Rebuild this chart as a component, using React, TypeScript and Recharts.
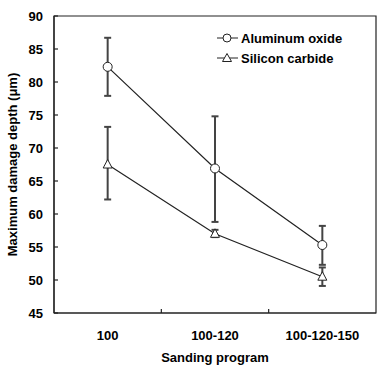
import React from 'react';
import {
  LineChart,
  Line,
  XAxis,
  YAxis,
  ErrorBar,
  Legend,
  ReferenceArea,
} from 'recharts';

// Sanding programs (grit sequences)
const categories = ['100', '100-120', '100-120-150'];

// Aluminum oxide: mean and error bar ends (µm)
const aluminumMean = [82.3, 66.9, 55.3];
const aluminumHigh = [86.7, 74.8, 58.2];
const aluminumLow = [77.9, 58.8, 52.3];

// Silicon carbide: mean and error bar ends (µm)
const siliconMean = [67.5, 57.0, 50.5];
const siliconHigh = [73.2, 57.6, 51.9];
const siliconLow = [62.2, 56.5, 49.1];

const yTicks = [45, 50, 55, 60, 65, 70, 75, 80, 85, 90];
// category centres at 1,2,3 ; boundary ticks in between
const xTicks = [1, 1.5, 2, 2.5, 3];

const FONT = "'Liberation Sans', Arial, Helvetica, sans-serif";
const AXIS = '#222';
const BAR = '#444';

const data = categories.map((name, i) => ({
  x: i + 1,
  name,
  al: aluminumMean[i],
  alErr: [aluminumMean[i] - aluminumLow[i], aluminumHigh[i] - aluminumMean[i]],
  sic: siliconMean[i],
  sicErr: [siliconMean[i] - siliconLow[i], siliconHigh[i] - siliconMean[i]],
}));

const XTick = (props: any) => {
  const { x, y, payload } = props;
  const v = payload.value;
  if (Number.isInteger(v)) {
    return (
      <text x={x} y={y + 27} textAnchor="middle" fontFamily={FONT} fontSize={13} fontWeight="bold" fill="#000">
        {categories[v - 1]}
      </text>
    );
  }
  return <line x1={x} x2={x} y1={y} y2={y - 4} stroke={AXIS} strokeWidth={1.2} />;
};

const CircleDot = (props: any) => {
  const { cx, cy } = props;
  if (cx == null || cy == null) return null;
  return <circle cx={cx} cy={cy} r={4.5} fill="#fff" stroke="#222" strokeWidth={1} />;
};

const TriangleDot = (props: any) => {
  const { cx, cy } = props;
  if (cx == null || cy == null) return null;
  return (
    <polygon
      points={`${cx},${cy - 5} ${cx - 4.5},${cy + 3.5} ${cx + 4.5},${cy + 3.5}`}
      fill="#fff"
      stroke="#222"
      strokeWidth={1}
    />
  );
};

const LegendContent = () => {
  const rows = [
    { label: 'Aluminum oxide', shape: 'circle' },
    { label: 'Silicon carbide', shape: 'triangle' },
  ];
  return (
    <div style={{ fontFamily: FONT, fontSize: 13, fontWeight: 'bold', color: '#000' }}>
      {rows.map((r) => (
        <div key={r.label} style={{ display: 'flex', alignItems: 'center', height: 20 }}>
          <svg width={25} height={20}>
            <line x1={1} x2={22} y1={10} y2={10} stroke="#222" strokeWidth={1} />
            {r.shape === 'circle' ? (
              <circle cx={11} cy={10} r={4} fill="#fff" stroke="#222" />
            ) : (
              <polygon points="11,5.5 6.5,13.5 15.5,13.5" fill="#fff" stroke="#222" />
            )}
          </svg>
          <span>{r.label}</span>
        </div>
      ))}
    </div>
  );
};

export default function App() {
  return (
    <div style={{ position: 'absolute', left: 0, top: 0, width: 378, height: 366, background: '#fff' }}>
      <LineChart width={378} height={366} data={data} margin={{ top: 16, right: 2, bottom: 0, left: 0 }}>
        <ReferenceArea x1={0.5} x2={3.5} y1={45} y2={90} fill="none" stroke={AXIS} strokeWidth={1.2} />
        <XAxis
          dataKey="x"
          type="number"
          domain={[0.5, 3.5]}
          ticks={xTicks}
          interval={0}
          height={53}
          tickLine={false}
          tickSize={0}
          tickMargin={0}
          tick={<XTick />}
          axisLine={{ stroke: AXIS, strokeWidth: 1.2 }}
          label={{
            value: 'Sanding program',
            position: 'insideBottom',
            offset: 4,
            style: { fontFamily: FONT, fontSize: 13, fontWeight: 'bold', fill: '#000' },
          }}
        />
        <YAxis
          type="number"
          domain={[45, 90]}
          ticks={yTicks}
          width={54}
          tickSize={-4}
          tickMargin={15}
          tickLine={{ stroke: AXIS, strokeWidth: 1.2 }}
          axisLine={{ stroke: AXIS, strokeWidth: 1.2 }}
          tick={{ fontFamily: FONT, fontSize: 13, fontWeight: 'bold', fill: '#000' }}
          label={{
            value: 'Maximum damage depth (μm)',
            angle: -90,
            position: 'insideLeft',
            offset: 12,
            style: { fontFamily: FONT, fontSize: 13, fontWeight: 'bold', fill: '#000', textAnchor: 'middle' },
          }}
        />
        <Legend
          layout="vertical"
          align="center"
          verticalAlign="middle"
          wrapperStyle={{ top: 28, left: 216, width: 150 }}
          content={<LegendContent />}
        />
        <Line
          dataKey="al"
          name="Aluminum oxide"
          stroke="#222"
          strokeWidth={1.2}
          dot={<CircleDot />}
          activeDot={false}
          isAnimationActive={false}
        >
          <ErrorBar dataKey="alErr" direction="y" width={3.5} stroke={BAR} strokeWidth={2} isAnimationActive={false} />
        </Line>
        <Line
          dataKey="sic"
          name="Silicon carbide"
          stroke="#222"
          strokeWidth={1.2}
          dot={<TriangleDot />}
          activeDot={false}
          isAnimationActive={false}
        >
          <ErrorBar dataKey="sicErr" direction="y" width={3.5} stroke={BAR} strokeWidth={2} isAnimationActive={false} />
        </Line>
      </LineChart>
    </div>
  );
}
